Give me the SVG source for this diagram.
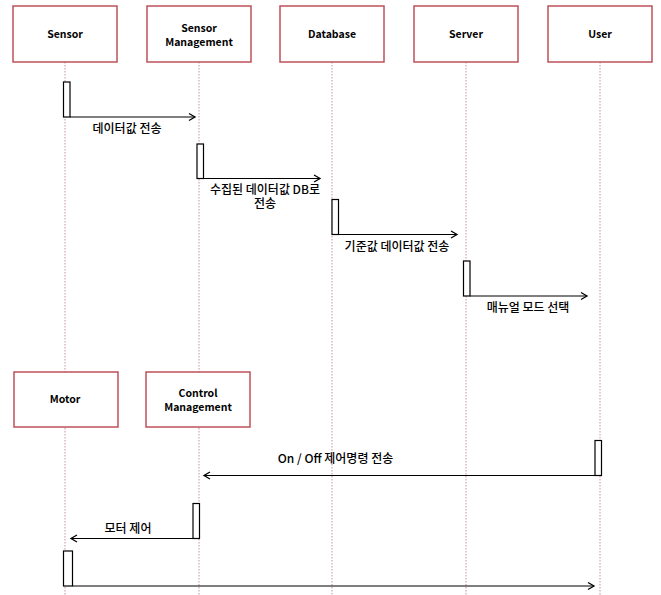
<svg xmlns="http://www.w3.org/2000/svg" width="661" height="595" viewBox="0 0 661 595">
<defs>
<marker id="arr" markerUnits="userSpaceOnUse" markerWidth="10" markerHeight="10" viewBox="0 0 10 10" refX="7" refY="5" orient="auto">
<path d="M1,1.5 L7,5 L1,8.5" fill="none" stroke="#000" stroke-width="1.3"/>
</marker>
</defs>
<style>
.box{fill:#fff;stroke:#c0505a;stroke-width:1.5}
.life{stroke:#c89098;stroke-width:1;stroke-dasharray:1.5 1.5;fill:none}
.act{fill:#fff;stroke:#000;stroke-width:1.2}
.msg{stroke:#000;stroke-width:1.2;fill:none;marker-end:url(#arr)}
.nt{font-family:"Noto Sans CJK KR","Liberation Sans",sans-serif;font-size:10.5px;font-weight:bold;text-anchor:middle;fill:#000}
.mt{font-family:"Noto Sans CJK KR","Liberation Sans",sans-serif;font-size:12px;font-weight:500;text-anchor:middle;fill:#000}
</style>
<rect width="661" height="595" fill="#fff"/>
<g id="lifelines">
<line class="life" x1="65" y1="62" x2="65" y2="595"/>
<line class="life" x1="199" y1="62" x2="199" y2="595"/>
<line class="life" x1="332" y1="62" x2="332" y2="595"/>
<line class="life" x1="466" y1="62" x2="466" y2="595"/>
<line class="life" x1="600" y1="62" x2="600" y2="595"/>
</g>
<g id="sensor"><rect class="box" x="13" y="6" width="104" height="56"/><text class="nt" x="65" y="38">Sensor</text></g>
<g id="sensor-management"><rect class="box" x="147" y="6" width="104" height="56"/><text class="nt" x="199" y="31.5">Sensor</text><text class="nt" x="199" y="45.5">Management</text></g>
<g id="database"><rect class="box" x="280" y="6" width="104" height="56"/><text class="nt" x="332" y="38">Database</text></g>
<g id="server"><rect class="box" x="414" y="6" width="104" height="56"/><text class="nt" x="466" y="38">Server</text></g>
<g id="user"><rect class="box" x="548" y="6" width="104" height="56"/><text class="nt" x="600" y="38">User</text></g>
<g id="motor"><rect class="box" x="14" y="372" width="104" height="55"/><text class="nt" x="65" y="403">Motor</text></g>
<g id="control-management"><rect class="box" x="146" y="372" width="104" height="55"/><text class="nt" x="198" y="397">Control</text><text class="nt" x="198" y="410.5">Management</text></g>
<g id="connectors">
<rect class="act" x="63.5" y="82" width="6.5" height="35"/>
<line class="msg" x1="70" y1="117" x2="195" y2="117"/>
<text class="mt" x="127" y="132.5">데이터값 전송</text>
<rect class="act" x="197" y="144" width="6.5" height="34.5"/>
<line class="msg" x1="203.5" y1="178.5" x2="320" y2="178.5"/>
<text class="mt" x="265" y="194"><tspan x="265" y="194">수집된 데이터값 DB로</tspan><tspan x="265" y="208">전송</tspan></text>
<rect class="act" x="332" y="199.5" width="6.5" height="35"/>
<line class="msg" x1="338.5" y1="234.5" x2="457" y2="234.5"/>
<text class="mt" x="397" y="250.5">기준값 데이터값 전송</text>
<rect class="act" x="463.5" y="261" width="6.5" height="35"/>
<line class="msg" x1="470" y1="296" x2="587" y2="296"/>
<text class="mt" x="528" y="312">매뉴얼 모드 선택</text>
<rect class="act" x="595" y="440.5" width="6.5" height="35"/>
<line class="msg" x1="595" y1="475.5" x2="204" y2="475.5"/>
<text class="mt" x="335.5" y="463">On / Off 제어명령 전송</text>
<rect class="act" x="193" y="503.5" width="6.5" height="35"/>
<line class="msg" x1="193" y1="538.5" x2="71" y2="538.5"/>
<text class="mt" x="128" y="532.5">모터 제어</text>
<rect class="act" x="63.5" y="551" width="9" height="35"/>
<line class="msg" x1="72.5" y1="586" x2="594" y2="586"/>
</g>
</svg>
